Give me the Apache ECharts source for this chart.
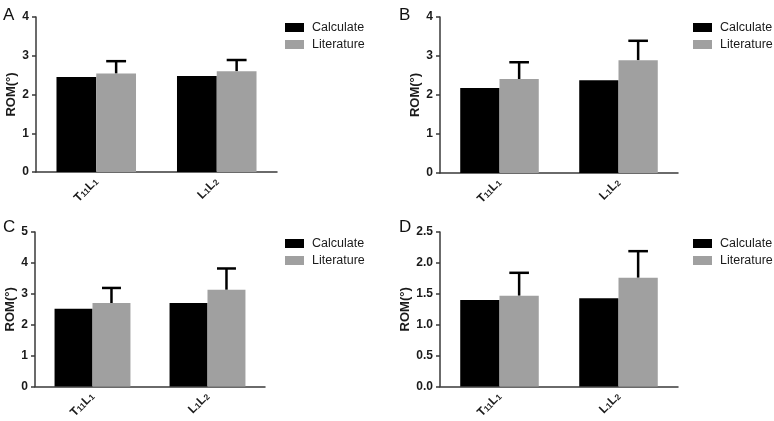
<!DOCTYPE html>
<html>
<head>
<meta charset="utf-8">
<script src="https://cdn.jsdelivr.net/npm/echarts@6/dist/echarts.min.js"></script>
<style>html,body{margin:0;padding:0;background:#fff}#c{width:774px;height:421px}</style>
</head>
<body>
<div id="c"></div>
<script>
// ---- data ----
const categories = ['T₁₁L₁', 'L₁L₂'];
const seriesNames = ['Calculate', 'Literature'];
const panelLetters = ['A', 'B', 'C', 'D'];
const yMax = [4, 4, 5, 2.5];
const yInterval = [1, 1, 1, 0.5];
// Panel A
const calcA = [2.45, 2.48];
const litA = [2.54, 2.60];
const sdA = [0.32, 0.29];
// Panel B
const calcB = [2.18, 2.38];
const litB = [2.41, 2.89];
const sdB = [0.43, 0.50];
// Panel C
const calcC = [2.52, 2.70];
const litC = [2.70, 3.13];
const sdC = [0.49, 0.69];
// Panel D
const calcD = [1.40, 1.43];
const litD = [1.47, 1.76];
const sdD = [0.37, 0.43];

const panels = [
  {calc: calcA, lit: litA, sd: sdA},
  {calc: calcB, lit: litB, sd: sdB},
  {calc: calcC, lit: litC, sd: sdC},
  {calc: calcD, lit: litD, sd: sdD}
];

// ---- layout ----
const gridPos = [
  {left: 36, top: 17, width: 241, height: 155},
  {left: 440, top: 17, width: 238, height: 156},
  {left: 35, top: 232, width: 230, height: 157},
  {left: 440, top: 232, width: 238, height: 157}
];
const legendPos = [
  {left: 285, top: 21},
  {left: 693, top: 21},
  {left: 285, top: 237},
  {left: 693, top: 237}
];
const letterPos = [[3, 7], [399, 7], [3, 219], [399, 219]];
const BAR_FRAC = 0.33;
const AXIS_COLOR = '#3a3a3a';
const TXT = '#1a1a1a';
const FONT = 'Liberation Sans, Arial, sans-serif';

function richLabel(s) {
  let out = '';
  const re = /([₀-₉]+)|([^₀-₉]+)/g;
  let m;
  while ((m = re.exec(s)) !== null) {
    if (m[1]) {
      const d = m[1].split('').map(c => String(c.charCodeAt(0) - 0x2080)).join('');
      out += '{s|' + d + '}';
    } else {
      out += '{n|' + m[2] + '}';
    }
  }
  return out;
}

const option = {
  animation: false,
  backgroundColor: '#fff',
  grid: gridPos.map(g => Object.assign({containLabel: false}, g)),
  legend: legendPos.map(p => ({
    left: p.left, top: p.top, orient: 'vertical', padding: 0,
    data: seriesNames,
    itemWidth: 19, itemHeight: 9, itemGap: 4,
    selectedMode: false,
    icon: 'rect',
    textStyle: {fontSize: 12.5, color: TXT, fontFamily: FONT, padding: [0, 0, 0, 3]}
  })),
  xAxis: gridPos.map((g, i) => ({
    type: 'category', gridIndex: i, data: categories,
    axisLine: {lineStyle: {color: AXIS_COLOR, width: 1.5}},
    axisTick: {alignWithLabel: true, length: 4, lineStyle: {color: AXIS_COLOR, width: 1.5}},
    axisLabel: {
      rotate: 45, margin: 8, color: TXT,
      formatter: v => richLabel(v),
      rich: {
        n: {fontSize: 12, fontWeight: 'bold', fontFamily: FONT, color: TXT},
        s: {fontSize: 8.5, fontWeight: 'bold', fontFamily: FONT, color: TXT, verticalAlign: 'bottom', padding: [3, 0, 0, 0]}
      }
    }
  })),
  yAxis: gridPos.map((g, i) => ({
    type: 'value', gridIndex: i, min: 0, max: yMax[i], interval: yInterval[i],
    name: 'ROM(°)', nameLocation: 'middle', nameGap: 18,
    nameTextStyle: {fontSize: 13, fontWeight: 'bold', color: TXT, fontFamily: FONT},
    axisLine: {show: true, lineStyle: {color: AXIS_COLOR, width: 1.5}},
    axisTick: {show: true, length: 4, lineStyle: {color: AXIS_COLOR, width: 1.5}},
    splitLine: {show: false},
    axisLabel: {
      margin: 7, fontSize: 12, fontWeight: 'bold', color: TXT, fontFamily: FONT,
      formatter: v => (yInterval[i] < 1 ? v.toFixed(1) : String(v))
    }
  })),
  graphic: letterPos.map((p, i) => ({
    type: 'text', left: p[0], top: p[1],
    style: {text: panelLetters[i], fontSize: 17, fill: '#111', fontFamily: FONT}
  })),
  series: []
};

panels.forEach((p, i) => {
  option.series.push({
    name: seriesNames[0], type: 'bar', xAxisIndex: i, yAxisIndex: i,
    data: p.calc, barWidth: (BAR_FRAC * 100) + '%', barGap: '0%',
    itemStyle: {color: '#000000'}, z: 3
  });
  option.series.push({
    name: seriesNames[1], type: 'bar', xAxisIndex: i, yAxisIndex: i,
    data: p.lit, barWidth: (BAR_FRAC * 100) + '%', barGap: '0%',
    itemStyle: {color: '#a0a0a0'}, z: 3
  });
  option.series.push({
    type: 'custom', xAxisIndex: i, yAxisIndex: i, z: 2,
    encode: {x: 0, y: [1, 2]},
    data: p.lit.map((v, k) => [k, v, v + p.sd[k]]),
    renderItem: function (params, api) {
      const k = api.value(0), v = api.value(1), top = api.value(2);
      const band = api.size([1, 0])[0];
      const bw = band * BAR_FRAC;
      const p0 = api.coord([k, v]);
      const p1 = api.coord([k, top]);
      const cx = p0[0] + bw / 2;
      const half = bw / 4;
      const st = {stroke: '#000', lineWidth: 2.5};
      return {
        type: 'group',
        children: [
          {type: 'line', shape: {x1: cx, y1: p0[1], x2: cx, y2: p1[1]}, style: st},
          {type: 'line', shape: {x1: cx - half, y1: p1[1], x2: cx + half, y2: p1[1]}, style: st}
        ]
      };
    }
  });
});

const chart = echarts.init(document.getElementById('c'), null, {renderer: 'canvas'});
chart.setOption(option);
</script>
</body>
</html>
